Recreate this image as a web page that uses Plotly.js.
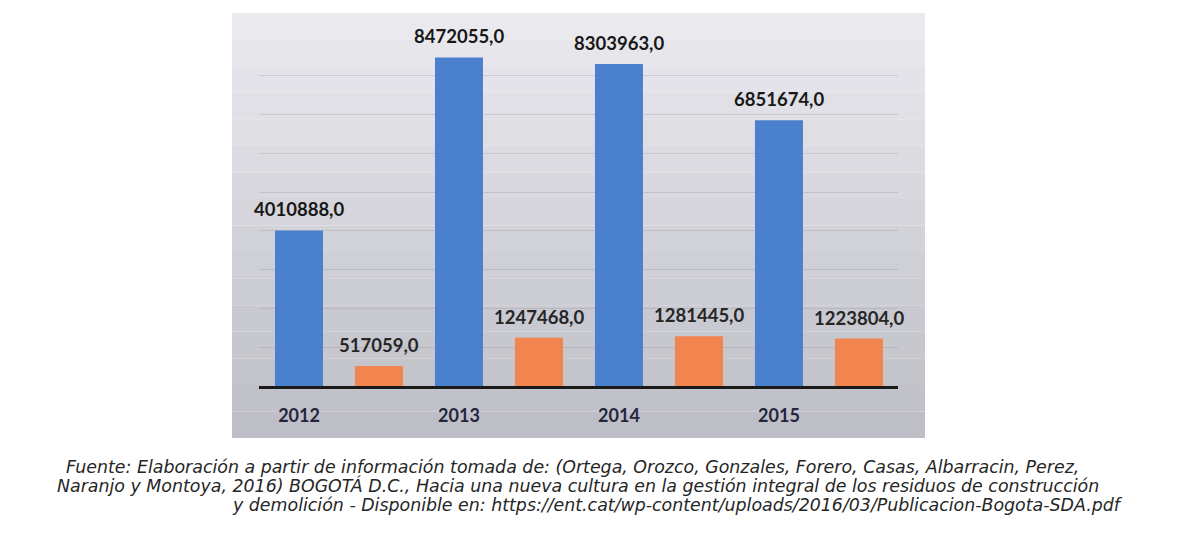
<!DOCTYPE html>
<html>
<head>
<meta charset="utf-8">
<script src="https://cdn.plot.ly/plotly-3.0.1.min.js"></script>
<style>
  html, body { margin: 0; padding: 0; background: #ffffff; }
  #chart { width: 1191px; height: 533px; }
</style>
</head>
<body>
<div id="chart"></div>
<script>
// ---- data ----
const years = ['2012', '2013', '2014', '2015'];
const seriesBlue = [4010888, 8472055, 8303963, 6851674];
const seriesOrange = [517059, 1247468, 1281445, 1223804];

const captionLines = [
  'Fuente: Elaboración a partir de información tomada de: (Ortega, Orozco, Gonzales, Forero, Casas, Albarracin, Perez,',
  'Naranjo y Montoya, 2016) BOGOTÁ D.C., Hacia una nueva cultura en la gestión integral de los residuos de construcción',
  'y demolición - Disponible en: https://ent.cat/wp-content/uploads/2016/03/Publicacion-Bogota-SDA.pdf'
];

function fmt(v) { return String(v) + ',0'; }

// ---- geometry of the plot area ----
const W = 1191, H = 533;
const mL = 259, mR = 293, mT = 37, mB = 147;
const plotW = W - mL - mR, plotH = H - mT - mB;
function px2paperX(px) { return (px - mL) / plotW; }
function px2paperY(py) { return (H - mB - py) / plotH; }

// gradient grey card behind the chart, built from bands
const shapes = [];
const boxL = 232, boxR = 925, boxT = 13, boxB = 438;
const nBands = 16;
const cTop = [233, 233, 238], cBot = [190, 190, 198];
for (let k = 0; k < nBands; k++) {
  const t = k / (nBands - 1);
  const c = cTop.map((a, j) => Math.round(a + (cBot[j] - a) * t));
  const yA = boxT + (boxB - boxT) * k / nBands;
  const yB = boxT + (boxB - boxT) * (k + 1) / nBands;
  shapes.push({
    type: 'rect', xref: 'paper', yref: 'paper', layer: 'below',
    x0: px2paperX(boxL), x1: px2paperX(boxR),
    y0: px2paperY(yB), y1: px2paperY(yA),
    fillcolor: 'rgb(' + c.join(',') + ')', line: { width: 0 }
  });
}

const traces = [
  {
    type: 'bar', x: years, y: seriesBlue, width: 0.3, offset: -0.15,
    marker: { color: '#4b80cf' }, hoverinfo: 'skip', showlegend: false
  },
  {
    type: 'bar', x: years, y: seriesOrange, width: 0.3, offset: 0.35,
    marker: { color: '#f2844f' }, hoverinfo: 'skip', showlegend: false
  }
];

const annotations = [];
seriesBlue.forEach((v, i) => {
  annotations.push({
    x: i, y: v, xref: 'x', yref: 'y', text: fmt(v), showarrow: false,
    xanchor: 'center', yanchor: 'bottom', yshift: 8,
    font: { family: 'Lato, "Open Sans", sans-serif', size: 18.5, color: '#181818', weight: 'bold' }
  });
});
seriesOrange.forEach((v, i) => {
  annotations.push({
    x: i + 0.5, y: v, xref: 'x', yref: 'y', text: fmt(v), showarrow: false,
    xanchor: 'center', yanchor: 'bottom', yshift: 8,
    font: { family: 'Lato, "Open Sans", sans-serif', size: 18.5, color: '#262626', weight: 'bold' }
  });
});

const capY = [467, 486, 505];
const capCx = [572, 578, 677];
captionLines.forEach((t, i) => {
  annotations.push({
    xref: 'paper', yref: 'paper', x: px2paperX(capCx[i]), y: px2paperY(capY[i]),
    xanchor: 'center', yanchor: 'middle', text: t, showarrow: false,
    font: { family: '"DejaVu Sans", sans-serif', size: 17.4, color: '#262626', style: 'italic' }
  });
});

const layout = {
  width: W, height: H,
  margin: { l: mL, r: mR, t: mT, b: mB, pad: 0 },
  paper_bgcolor: '#ffffff',
  plot_bgcolor: 'rgba(0,0,0,0)',
  barmode: 'overlay',
  showlegend: false,
  xaxis: {
    type: 'category', range: [-0.25, 3.744], fixedrange: true,
    showgrid: false, zeroline: false,
    showline: true, linecolor: '#1a1a1a', linewidth: 2.5,
    ticks: '', ticklabelstandoff: 12,
    tickfont: { family: 'Lato, "Open Sans", sans-serif', size: 18, color: '#25253d', weight: 'bold' }
  },
  yaxis: {
    range: [0, 9000000], dtick: 1000000, fixedrange: true,
    showgrid: true, gridcolor: 'rgba(120,120,125,0.22)', gridwidth: 1,
    zeroline: false, showline: false, showticklabels: false, ticks: ''
  },
  shapes: shapes,
  annotations: annotations
};

Plotly.newPlot('chart', traces, layout, { displayModeBar: false, staticPlot: true });
</script>
</body>
</html>
